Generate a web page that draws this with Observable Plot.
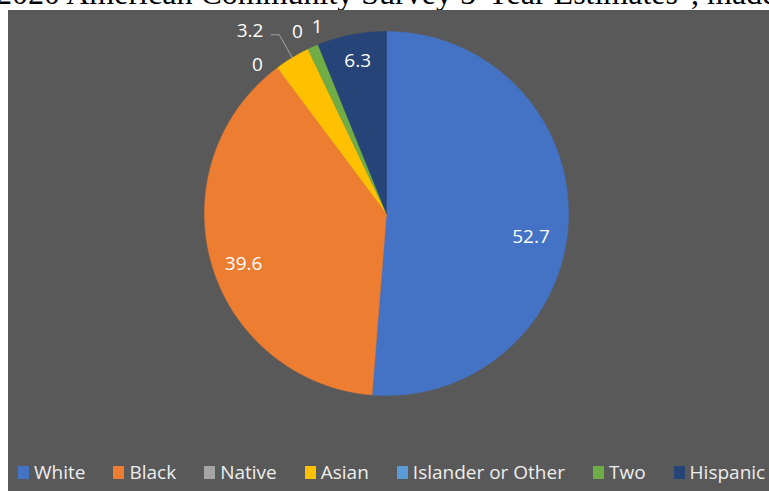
<!DOCTYPE html>
<html>
<head>
<meta charset="utf-8">
<script src="https://cdn.jsdelivr.net/npm/d3@7"></script>
<script src="https://cdn.jsdelivr.net/npm/@observablehq/plot@0.6"></script>
<style>
  html, body { margin: 0; padding: 0; background: #ffffff; width: 769px; height: 491px; overflow: hidden; }
  #title { position: absolute; left: -4px; top: -23px; font-family: "Liberation Serif", serif; font-size: 32px; line-height: 32px; color: #000; white-space: nowrap; }
  #panel { position: absolute; left: 8px; top: 10px; width: 761px; height: 481px; background: #595959; overflow: hidden; }
  #chart { position: absolute; left: 0; top: 0; }
  #legend { position: absolute; left: 10px; top: 449px; display: flex; gap: 28px; font-family: "Open Sans", sans-serif; font-size: 19px; color: #eeeeee; white-space: nowrap; }
  .item { display: flex; align-items: center; gap: 5px; }
  .sw { width: 11px; height: 13px; display: inline-block; }
</style>
</head>
<body>
<div id="title">2020 American Community Survey 5-Year Estimates", made by the</div>
<div id="panel">
  <div id="chart"></div>
  <div id="legend"></div>
</div>
<script>
const categories = ["White", "Black", "Native", "Asian", "Islander or Other", "Two", "Hispanic"];
const values = [52.7, 39.6, 0, 3.2, 0, 1, 6.3];
const labels = ["52.7", "39.6", "0", "3.2", "0", "1", "6.3"];
const colors = ["#4472C4", "#ED7D31", "#A5A5A5", "#FFC000", "#5B9BD5", "#70AD47", "#264478"];

// layout (not data): label ring and pixel nudges
const labelInside = [true, true, false, false, false, false, true];
const labelNudge = [[-1, 18], [-3, 10], [-7, 15], [-31, -8], [-1, 2], [13, 0], [-1, -10]];

const W = 761, H = 481;
const R = 182;           // pie radius in px
const cx = 378, cy = 203; // pie centre in px within svg
const xDomain = [-cx / R, (W - cx) / R];
const yDomain = [-(H - cy) / R, cy / R];

const arcs = d3.pie().sort(null).value(d => d)(values);

// slice polygons from the pie layout
const polys = [];
arcs.forEach((a, i) => {
  if (a.endAngle - a.startAngle <= 0) return;
  polys.push({name: categories[i], x: 0, y: 0});
  const n = Math.max(2, Math.ceil((a.endAngle - a.startAngle) / 0.005));
  for (let k = 0; k <= n; k++) {
    const t = a.startAngle + (a.endAngle - a.startAngle) * k / n;
    polys.push({name: categories[i], x: Math.sin(t), y: Math.cos(t)});
  }
  polys.push({name: categories[i], x: 0, y: 0});
});

// label positions
const textData = arcs.map((a, i) => {
  const m = (a.startAngle + a.endAngle) / 2;
  const r = labelInside[i] ? 0.8 : 1.12;
  return {
    text: labels[i],
    x: r * Math.sin(m) + labelNudge[i][0] / R,
    y: r * Math.cos(m) - labelNudge[i][1] / R
  };
});

// leader line for Asian
const ai = 3;
const am = (arcs[ai].startAngle + arcs[ai].endAngle) / 2;
const ex = Math.sin(am), ey = Math.cos(am);
const leader = [
  {x: ex, y: ey},
  {x: ex - 13 / R, y: ey + 23 / R},
  {x: ex - 21 / R, y: ey + 23 / R}
];

const chart = Plot.plot({
  width: W,
  height: H,
  margin: 0,
  style: {background: "transparent"},
  x: {domain: xDomain, axis: null},
  y: {domain: yDomain, axis: null},
  color: {domain: categories, range: colors},
  marks: [
    Plot.line(polys, {x: "x", y: "y", z: "name", fill: "name", stroke: "name", strokeWidth: 0.5}),
    Plot.line(leader, {x: "x", y: "y", stroke: "#a6a6a6", strokeWidth: 1}),
    Plot.text(textData, {x: "x", y: "y", text: "text", fill: "#ffffff", fontSize: 19, fontFamily: "Open Sans"})
  ]
});
document.getElementById("chart").appendChild(chart);

const legend = document.getElementById("legend");
categories.forEach((c, i) => {
  const it = document.createElement("div");
  it.className = "item";
  const sw = document.createElement("span");
  sw.className = "sw";
  sw.style.background = colors[i];
  const tx = document.createElement("span");
  tx.textContent = c;
  it.appendChild(sw);
  it.appendChild(tx);
  legend.appendChild(it);
});
</script>
</body>
</html>
